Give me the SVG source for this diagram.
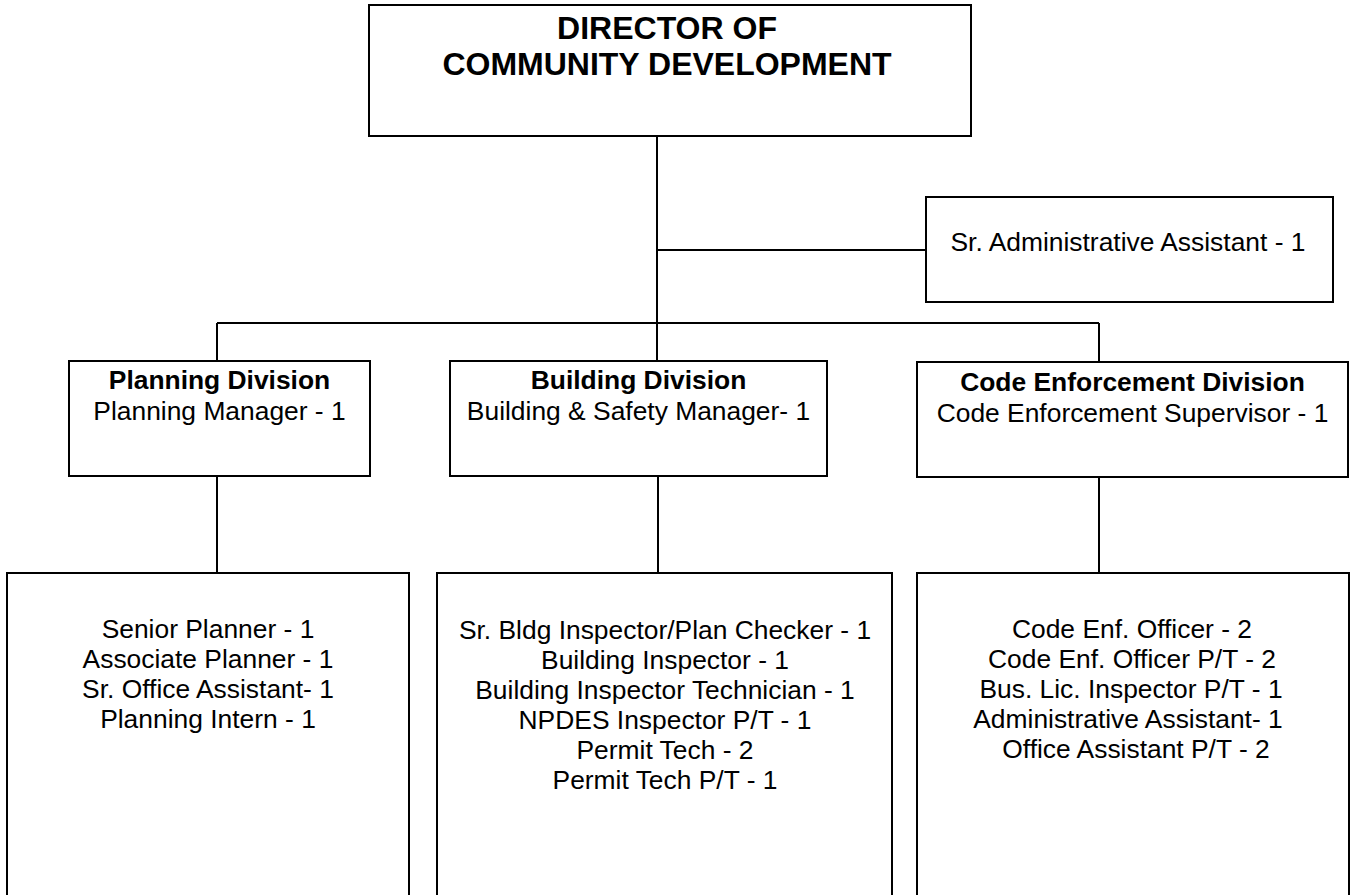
<svg xmlns="http://www.w3.org/2000/svg" width="1351" height="895" viewBox="0 0 1351 895">
<style>
.box{fill:#fff;stroke:#000;stroke-width:2}
.ln{fill:none;stroke:#000;stroke-width:2}
text{font-family:"Liberation Sans",Arial,sans-serif;fill:#000;text-anchor:middle}
.t{font-size:26.4px}
.b{font-size:26.4px;font-weight:bold}
.h{font-size:32px;font-weight:bold}
</style>
<rect width="1351" height="895" fill="#fff"/>
<g id="connectors">
<path class="ln" d="M657 136V361M657 250H926M217 323H1099M217 323V361M1099 323V362M217 476V573M658 476V573M1099 477V573"/>
</g>
<g id="director">
<rect class="box" x="369" y="5" width="602" height="131"/>
<text class="h" x="667" y="39">DIRECTOR OF</text>
<text class="h" x="667" y="75">COMMUNITY DEVELOPMENT</text>
</g>
<g id="sr-admin">
<rect class="box" x="926" y="197" width="407" height="105"/>
<text class="t" x="1128" y="251">Sr. Administrative Assistant - 1</text>
</g>
<g id="planning-division">
<rect class="box" x="69" y="361" width="301" height="115"/>
<text class="b" x="219.5" y="389">Planning Division</text>
<text class="t" x="219.5" y="420">Planning Manager - 1</text>
</g>
<g id="building-division">
<rect class="box" x="450" y="361" width="377" height="115"/>
<text class="b" x="638.5" y="389">Building Division</text>
<text class="t" x="638.5" y="420">Building &amp; Safety Manager- 1</text>
</g>
<g id="code-division">
<rect class="box" x="917" y="362" width="431" height="115"/>
<text class="b" x="1132.5" y="391">Code Enforcement Division</text>
<text class="t" x="1132.5" y="422">Code Enforcement Supervisor - 1</text>
</g>
<g id="planning-staff">
<rect class="box" x="7" y="573" width="402" height="340"/>
<text class="t" x="208" y="638">Senior Planner - 1</text>
<text class="t" x="208" y="668">Associate Planner - 1</text>
<text class="t" x="208" y="698">Sr. Office Assistant- 1</text>
<text class="t" x="208" y="728">Planning Intern - 1</text>
</g>
<g id="building-staff">
<rect class="box" x="437" y="573" width="455" height="340"/>
<text class="t" x="665" y="639">Sr. Bldg Inspector/Plan Checker - 1</text>
<text class="t" x="665" y="669">Building Inspector - 1</text>
<text class="t" x="665" y="699">Building Inspector Technician - 1</text>
<text class="t" x="665" y="729">NPDES Inspector P/T - 1</text>
<text class="t" x="665" y="759">Permit Tech - 2</text>
<text class="t" x="665" y="789">Permit Tech P/T - 1</text>
</g>
<g id="code-staff">
<rect class="box" x="917" y="573" width="432" height="340"/>
<text class="t" x="1132" y="638">Code Enf. Officer - 2</text>
<text class="t" x="1132" y="668">Code Enf. Officer P/T - 2</text>
<text class="t" x="1131" y="698">Bus. Lic. Inspector P/T - 1</text>
<text class="t" x="1128" y="728">Administrative Assistant- 1</text>
<text class="t" x="1136" y="758">Office Assistant P/T - 2</text>
</g>
</svg>
